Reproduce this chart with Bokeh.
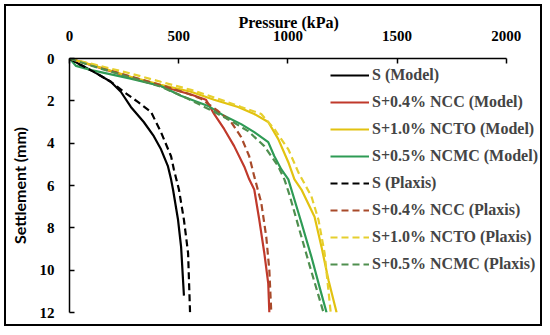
from bokeh.plotting import figure
from bokeh.models import Range1d, Legend, LegendItem, FixedTicker
from bokeh.embed import file_html
from bokeh.resources import INLINE

# Pressure (kPa) vs Settlement (mm)
s_model_x = [0, 50, 110, 189, 235, 281, 340, 386, 419, 451, 465, 474, 497, 511, 524]
s_model_y = [0, 0.3, 0.62, 1.1, 1.57, 2.29, 3.0, 3.67, 4.29, 5.1, 5.71, 6.19, 7.62, 8.9, 11.2]

s_plaxis_x = [0, 50, 110, 189, 248, 313, 373, 419, 465, 478, 501, 524, 543, 552]
s_plaxis_y = [0, 0.3, 0.62, 1.1, 1.57, 2.05, 2.52, 3.48, 4.62, 5.24, 6.19, 7.62, 9.19, 12.0]

ncc_model_x = [0, 97, 280, 418, 556, 625, 662, 708, 754, 800, 823, 846, 869, 892, 910, 915]
ncc_model_y = [0, 0.3, 0.9, 1.3, 1.7, 1.95, 2.62, 3.33, 4.14, 5.1, 5.71, 6.19, 7.62, 9.19, 10.62, 12.0]

ncc_plaxis_x = [0, 97, 280, 418, 540, 602, 680, 740, 786, 823, 846, 878, 901, 915, 924]
ncc_plaxis_y = [0, 0.28, 0.85, 1.25, 1.65, 1.9, 2.48, 3.0, 3.71, 4.62, 5.57, 6.81, 8.43, 10.0, 12.0]

ncto_model_x = [0, 97, 280, 418, 556, 662, 772, 846, 910, 956, 1002, 1030, 1062, 1122, 1154, 1186, 1223]
ncto_model_y = [0, 0.29, 0.86, 1.24, 1.57, 1.95, 2.29, 2.62, 3.0, 3.81, 4.9, 5.71, 6.19, 7.48, 8.9, 10.48, 12.0]

ncto_plaxis_x = [0, 97, 280, 418, 556, 680, 786, 878, 938, 1002, 1048, 1108, 1140, 1168, 1196]
ncto_plaxis_y = [0, 0.24, 0.71, 1.1, 1.48, 1.9, 2.29, 2.62, 3.33, 4.29, 5.38, 6.52, 7.62, 9.19, 12.0]

ncmc_model_x = [0, 30, 100, 280, 418, 510, 635, 708, 786, 846, 910, 938, 970, 1002, 1016, 1062, 1108, 1145, 1177]
ncmc_model_y = [0, 0.35, 0.55, 0.95, 1.3, 1.76, 2.24, 2.71, 3.1, 3.48, 3.95, 4.62, 5.24, 5.71, 6.19, 7.76, 9.38, 10.8, 12.0]

ncmc_plaxis_x = [0, 97, 280, 418, 543, 662, 740, 818, 892, 956, 984, 1007, 1053, 1099, 1163]
ncmc_plaxis_y = [0, 0.33, 0.9, 1.33, 1.9, 2.52, 2.95, 3.43, 4.14, 5.1, 5.71, 6.43, 8.1, 9.76, 12.0]

labels = ["S (Model)", "S+0.4% NCC (Model)", "S+1.0% NCTO (Model)", "S+0.5% NCMC (Model)",
          "S (Plaxis)", "S+0.4% NCC (Plaxis)", "S+1.0% NCTO (Plaxis)", "S+0.5% NCMC (Plaxis)"]
x_ticks = [0, 500, 1000, 1500, 2000]
y_ticks = [0, 2, 4, 6, 8, 10, 12]
x_title = "Pressure (kPa)"
y_title = "Settlement (mm)"

series = [
    (s_model_x, s_model_y, "black", "solid"),
    (ncc_model_x, ncc_model_y, "#C0392B", "solid"),
    (ncto_model_x, ncto_model_y, "#E2C210", "solid"),
    (ncmc_model_x, ncmc_model_y, "#2E9B55", "solid"),
    (s_plaxis_x, s_plaxis_y, "black", "7 4"),
    (ncc_plaxis_x, ncc_plaxis_y, "#A84A2A", "7 4"),
    (ncto_plaxis_x, ncto_plaxis_y, "#E6CF2E", "7 4"),
    (ncmc_plaxis_x, ncmc_plaxis_y, "#4F8F4F", "7 4"),
]

SERIF = "Liberation Serif"

p = figure(width=538, height=322, output_backend="svg", toolbar_location=None,
           x_range=Range1d(0, 2175), y_range=Range1d(12, 0),
           x_axis_location="above", title=x_title,
           min_border_left=61, min_border_right=0, min_border_top=52, min_border_bottom=16,
           styles={"border": "2px solid black", "box-sizing": "border-box",
                   "margin-left": "4px", "margin-top": "4px"})
p.outline_line_color = None
p.grid.visible = False

p.title.align = "left"
p.title.offset = 169
p.title.standoff = -6
p.title.text_font = SERIF
p.title.text_font_style = "bold"
p.title.text_font_size = "16px"
p.title.text_color = "black"

items = []
for (xs, ys, col, dash), lab in zip(series, labels):
    r = p.line(xs, ys, line_color=col, line_width=2.2, line_dash=dash)
    items.append(LegendItem(label=lab, renderers=[r]))

xa = p.xaxis[0]
ya = p.yaxis[0]
for ax in (xa, ya):
    ax.major_tick_in = 5
    ax.major_tick_out = 0
    ax.minor_tick_line_color = None
    ax.axis_line_width = 1.5
    ax.major_tick_line_width = 1.5
    ax.major_label_text_font = SERIF
    ax.major_label_text_font_style = "bold"
    ax.major_label_text_font_size = "15px"
    ax.major_label_text_color = "black"
    ax.axis_label_text_font_style = "bold"
    ax.axis_label_text_color = "black"

xa.bounds = (0, 2000)
xa.ticker = FixedTicker(ticks=x_ticks)
ya.ticker = FixedTicker(ticks=y_ticks)
xa.major_label_standoff = 18
ya.axis_label = y_title
ya.axis_label_text_font = "Lato"
ya.axis_label_text_font_size = "16px"
ya.axis_label_standoff = 8
ya.major_label_standoff = 15

legend = Legend(items=items, location=(261, 38), padding=0, margin=0,
                glyph_width=39, glyph_height=20, spacing=7, label_standoff=3,
                label_text_font=SERIF, label_text_font_style="bold",
                label_text_font_size="16px", border_line_color=None,
                background_fill_alpha=0)
p.add_layout(legend)

open("out.html", "w").write(file_html(p, INLINE))
